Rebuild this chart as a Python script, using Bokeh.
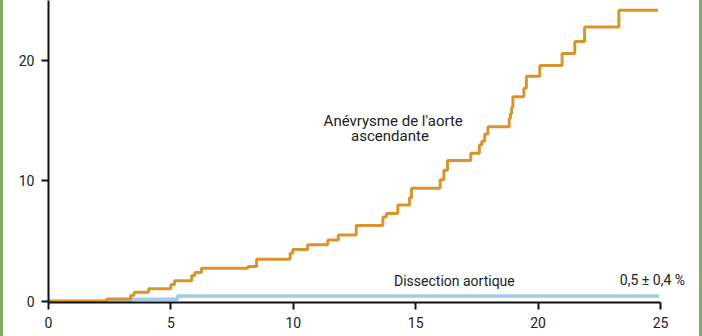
from bokeh.plotting import figure
from bokeh.models import Range1d, Label, FixedTicker
from bokeh.embed import file_html
from bokeh.resources import INLINE

# Data
anev_x = [0, 2.38, 3.36, 3.5, 4.09, 5.0, 5.15, 5.85, 5.98, 6.25, 8.15, 8.5, 9.87, 9.98,
          10.59, 11.41, 11.84, 12.57, 13.66, 13.8, 14.27, 14.75, 14.83, 16.0, 16.15, 16.3,
          17.25, 17.6, 17.7, 17.82, 17.95, 18.82, 18.87, 18.92, 18.97, 19.42, 19.52, 20.07,
          20.98, 21.5, 21.9, 23.3, 24.9]
anev_y = [0, 0.2, 0.5, 0.75, 1.05, 1.4, 1.7, 2.15, 2.4, 2.75, 2.9, 3.5, 4.0, 4.3,
          4.7, 5.1, 5.5, 6.3, 7.0, 7.3, 8.0, 8.6, 9.4, 10.1, 10.9, 11.7,
          12.3, 13.0, 13.3, 13.9, 14.5, 15.2, 15.6, 16.1, 17.0, 17.7, 18.7, 19.6,
          20.6, 21.6, 22.8, 24.2, 24.2]
dis_x = [0, 3.4, 5.27, 24.95]
dis_y = [0, 0.18, 0.45, 0.45]
x_ticks = [0, 5, 10, 15, 20, 25]
y_ticks = [0, 10, 20]
label_anev = ["Anévrysme de l'aorte", "ascendante"]
label_dis = "Dissection aortique"
label_pct = "0,5 ± 0,4 %"

ORANGE = "#d8952e"
BLUE = "#a3cbe6"
FONT = "Roboto"

# frame spans 48..702 px; 25 units take 612 px, so the range runs a bit past 25
x_end = 25 * (702 - 48) / 612.0

p = figure(width=702, height=336, output_backend="svg", toolbar_location=None,
           x_range=Range1d(0, x_end), y_range=Range1d(-0.1, 25))
p.min_border_left = 48
p.min_border_right = 0
p.min_border_top = 0
p.min_border_bottom = 34
p.border_fill_alpha = 0
p.background_fill_alpha = 0
p.outline_line_color = None
p.styles = {"background-color": "white",
            "box-shadow": "inset 3px 0 0 #7fae60, inset -3px 0 0 #7fae60"}

p.grid.visible = False

p.step(dis_x, dis_y, mode="after", line_color=BLUE, line_width=3.5)
p.step(anev_x, anev_y, mode="after", line_color=ORANGE, line_width=3)

for ax in (p.xaxis[0], p.yaxis[0]):
    ax.axis_line_width = 2
    ax.axis_line_color = "#111111"
    ax.major_tick_line_width = 2
    ax.major_tick_line_color = "#111111"
    ax.major_tick_in = 0
    ax.major_tick_out = 7
    ax.minor_tick_line_color = None
    ax.major_label_text_font = FONT
    ax.major_label_text_font_size = "14px"
    ax.major_label_text_color = "#222222"
    ax.major_label_standoff = 7

p.xaxis.bounds = (0, 25)
p.xaxis.ticker = FixedTicker(ticks=x_ticks)
p.yaxis.ticker = FixedTicker(ticks=y_ticks)

common = dict(text_font=FONT, text_font_size="15px", text_color="#222222",
              text_align="center", text_baseline="middle")
p.add_layout(Label(x=14.08, y=15.0, text=label_anev[0], **common))
p.add_layout(Label(x=13.95, y=13.72, text=label_anev[1], **common))
p.add_layout(Label(x=16.58, y=1.66, text=label_dis,
                   **{**common, "text_font_size": "14px"}))
p.add_layout(Label(x=26.0, y=1.8, text=label_pct,
                   **{**common, "text_font_size": "14px", "text_align": "right"}))

open("out.html", "w").write(file_html(p, INLINE))
